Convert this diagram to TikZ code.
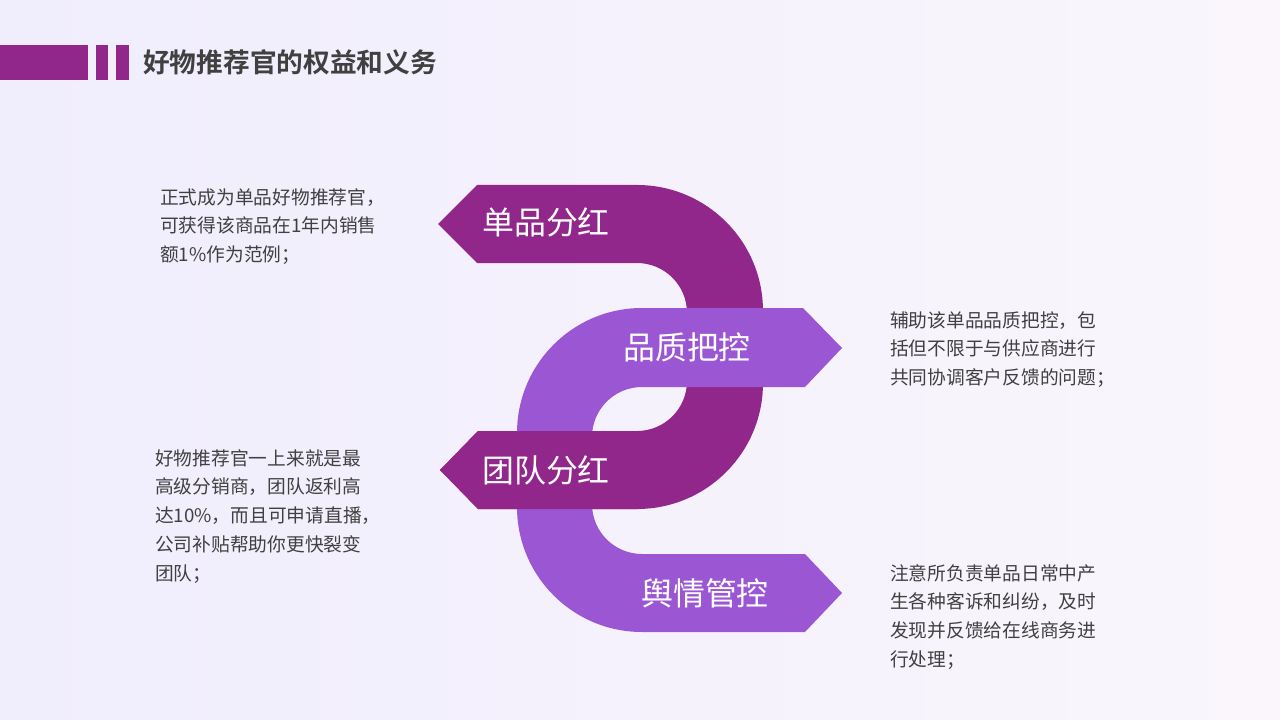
\documentclass[tikz,border=0pt]{standalone}
\usepackage{fontspec}
\setmainfont{Noto Sans CJK SC}
\newfontfamily\cjkbold{Noto Sans CJK SC Bold}
\definecolor{darkp}{RGB}{145,38,139}
\definecolor{lightp}{RGB}{155,86,211}
\definecolor{txtgray}{RGB}{64,64,64}
\definecolor{bgleft}{RGB}{240,237,253}
\definecolor{bgright}{RGB}{250,246,252}
\tikzset{
  bandlabel/.style={text=white,font=\fontsize{32}{35}\selectfont,inner sep=0pt,anchor=center},
  bodytext/.style={text=txtgray,font=\fontsize{18.8}{29}\selectfont,inner sep=0pt,anchor=north west,align=left},
  barfill/.style={fill=darkp,draw=none}
}
\begin{document}
\begin{tikzpicture}[x=1bp,y=-1bp]
\useasboundingbox (0,0) rectangle (1280,720);
\shade[left color=bgleft,right color=bgright] (0,0) rectangle (1280,720);
% header
\fill[barfill] (0,45) rectangle (88,80);
\fill[barfill] (96,45) rectangle (108,80);
\fill[barfill] (116,45) rectangle (129,80);
\node[anchor=west,inner sep=0pt,text=txtgray,font=\cjkbold\fontsize{26.8}{30}\selectfont] (title) at (143,62) {好物推荐官的权益和义务};
% dark band
\fill[darkp] (477,185) -- (637,185) arc[start angle=-90,end angle=0,radius=126] -- (763,383)
  arc[start angle=0,end angle=90,radius=126] -- (478,509) -- (440,470) -- (478,431) -- (637,431)
  arc[start angle=90,end angle=0,radius=50] -- (687,313)
  arc[start angle=0,end angle=-90,radius=50] -- (477,263) -- (438,224) -- cycle;
% light band
\fill[lightp] (642,308) -- (803,308) -- (842,348) -- (805,387) -- (642,387)
  arc[start angle=-90,end angle=-180,radius=50] -- (592,504)
  arc[start angle=180,end angle=90,radius=50] -- (805,554) -- (842,593) -- (805,632) -- (642,632)
  arc[start angle=90,end angle=180,radius=125] -- (517,433)
  arc[start angle=180,end angle=270,radius=125] -- cycle;
% dark lower band on top
\fill[darkp] (478,431) -- (640,431) -- (640,509) -- (478,509) -- (440,470) -- cycle;
% labels
\node[bandlabel] (l1) at (546,222) {单品分红};
\node[bandlabel] (l2) at (687,347) {品质把控};
\node[bandlabel] (l3) at (546,470) {团队分红};
\node[bandlabel] (l4) at (705,593) {舆情管控};
% body texts
\node[bodytext] (t1) at (160,188) {正式成为单品好物推荐官，\\可获得该商品在1年内销售\\额1\%作为范例；};
\node[bodytext] (t2) at (890,311) {辅助该单品品质把控，包\\括但不限于与供应商进行\\共同协调客户反馈的问题；};
\node[bodytext] (t3) at (155,449) {好物推荐官一上来就是最\\高级分销商，团队返利高\\达10\%，而且可申请直播，\\公司补贴帮助你更快裂变\\团队；};
\node[bodytext] (t4) at (890,564) {注意所负责单品日常中产\\生各种客诉和纠纷，及时\\发现并反馈给在线商务进\\行处理；};
\end{tikzpicture}
\end{document}
